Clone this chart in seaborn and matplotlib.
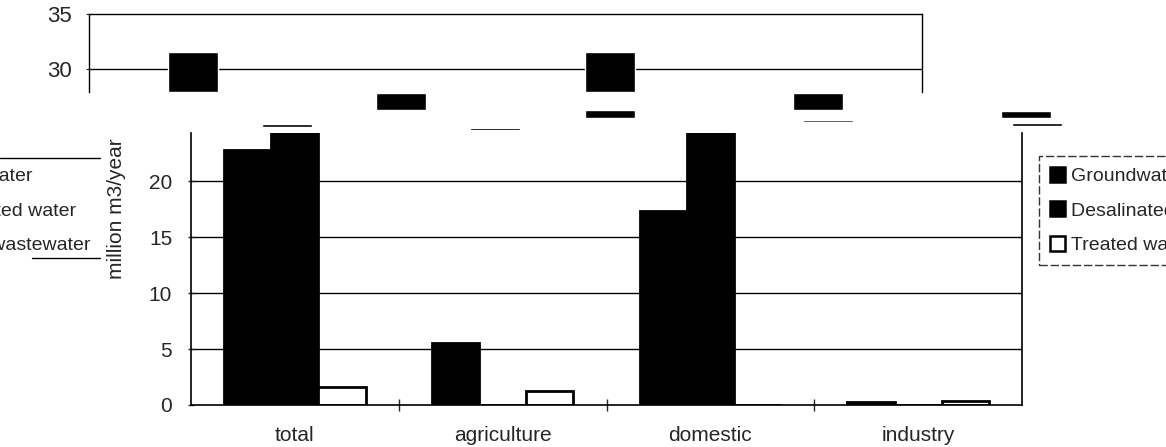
import numpy as np
import pandas as pd
import seaborn as sns
import matplotlib.pyplot as plt
from matplotlib.patches import Patch

# main chart: water use by source (million m3/year)
categories = ["total", "agriculture", "domestic", "industry"]
series = ["Groundwater", "Desalinated water", "Treated wastewater"]
groundwater = [22.8, 5.5, 17.3, 0.3]
desalinated = [24.3, 0.0, 24.3, 0.0]
treated = [1.65, 1.25, 0.0, 0.4]
y_ticks = [0, 5, 10, 15, 20]

# scan overlap: fragment of a second copy of the chart above the main one
frag_ticks = [30, 35]
frag_x = [0, 2, 1, 3, 2, 4, 0.45, 1.45, 3.05, 4.05]
frag_low = [27.9, 27.9, 26.3, 26.3, 25.5, 25.5, 24.7, 24.4, 25.2, 24.8]
frag_high = [31.5, 31.5, 27.8, 27.8, 26.3, 26.2, 25.0, 24.6, 25.4, 25.1]

df = pd.DataFrame({
    "use": categories * 3,
    "source": np.repeat(series, len(categories)),
    "value": groundwater + desalinated + treated,
})
colors = ["black", "black", "white"]

sns.set_style("white")
plt.rcParams["font.family"] = ["Liberation Sans", "DejaVu Sans"]

W, H = 1166, 447
fig = plt.figure(figsize=(W / 100, H / 100), dpi=100)


def px_axes(l, t, r, b):
    return fig.add_axes([l / W, 1 - b / H, (r - l) / W, (b - t) / H])


# ---- main bar chart
ax = px_axes(191, 133, 1022, 405)
sns.barplot(data=df, x="use", y="value", hue="source", palette=colors,
            width=0.68, saturation=1, edgecolor="black", linewidth=2,
            legend=False, ax=ax)
ax.set_ylim(0, 24.3)
ax.set_yticks(y_ticks)
ax.set_xlim(-0.5, len(categories) - 0.5)
for v in y_ticks[1:]:
    ax.axhline(v, color="black", lw=1, zorder=0)
ax.set_xlabel("")
ax.set_ylabel("million m3/year", fontsize=15)
ax.yaxis.set_label_coords(-0.078, 0.72)
ax.tick_params(axis="y", direction="inout", length=5, width=1, pad=11, labelsize=15, left=True)
ax.tick_params(axis="x", which="major", length=0, pad=15, labelsize=15)
ax.set_xticks([0.5, 1.5, 2.5], minor=True)
ax.tick_params(axis="x", which="minor", direction="inout", length=8, width=1, bottom=True)
ax.spines["top"].set_visible(False)
for s in ["left", "right", "bottom"]:
    ax.spines[s].set_color("black")
    ax.spines[s].set_linewidth(1.2)

# legend on the right, running off the page edge
handles = [Patch(facecolor=c, edgecolor="black", linewidth=1.8) for c in colors]
leg_kw = dict(fontsize=14, fancybox=False, edgecolor="black",
              handlelength=0.8, handleheight=0.8, handletextpad=0.3,
              labelspacing=0.85, borderpad=0.45, borderaxespad=0)
leg = fig.legend(handles, series, loc="upper left",
                 bbox_to_anchor=(1041 / W, 1 - 158 / H), frameon=True, **leg_kw)
leg.get_frame().set_linewidth(1)
leg.get_frame().set_linestyle((0, (6, 2)))
leg.get_frame().set_boxstyle("square", pad=0.1)

# shifted copy of the legend cut off at the left edge
leg2 = fig.legend(handles, series, loc="upper right",
                  bbox_to_anchor=(99 / W, 1 - 158 / H), frameon=False, **leg_kw)
fig.add_artist(plt.Line2D([0, 100 / W], [1 - 158 / H] * 2, color="black", lw=1))
fig.add_artist(plt.Line2D([32 / W, 100 / W], [1 - 258 / H] * 2, color="black", lw=1))

# ---- top fragment
ax2 = px_axes(89, 14, 1166, 130)
ax2.patch.set_visible(False)
ax2.bar(frag_x, np.subtract(frag_high, frag_low), bottom=frag_low,
        width=0.24, color="black")
ax2.set_xlim(-0.5, (1166 - 89) / 208.25 - 0.5)
ax2.set_ylim(30 - (130 - 69) / 11, 35)
ax2.set_yticks(frag_ticks)
ax2.set_xticks([])
ax2.hlines(30, -0.5, 3.5, color="black", lw=1, zorder=0)
ax2.spines["bottom"].set_visible(False)
ax2.spines["left"].set_bounds(27.9, 35)
ax2.spines["right"].set_position(("data", 3.5))
ax2.spines["right"].set_bounds(27.9, 35)
ax2.spines["top"].set_bounds(-0.5, 3.5)
for s in ["left", "right", "top"]:
    ax2.spines[s].set_color("black")
    ax2.spines[s].set_linewidth(1)
ax2.tick_params(axis="y", direction="inout", length=5, pad=10, labelsize=16, left=True)

fig.savefig("out.png", dpi=100)
